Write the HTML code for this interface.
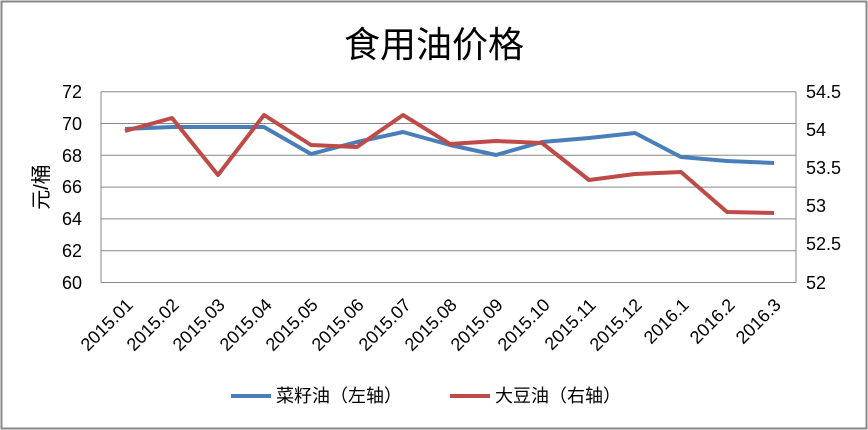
<!DOCTYPE html>
<html><head><meta charset="utf-8"><style>
body{margin:0;background:#fff}
svg{display:block}
text{font-family:"Liberation Sans","Noto Sans CJK SC",sans-serif;fill:#000}
</style></head><body>
<svg width="868" height="430" viewBox="0 0 868 430">
<rect x="1.5" y="1.5" width="865" height="427" fill="#fff" stroke="#888" stroke-width="2"/>
<text x="434" y="57" font-size="36" text-anchor="middle">食用油价格</text>
<g stroke="#888" stroke-width="1">
<line x1="101" y1="91.7" x2="796" y2="91.7"/>
<line x1="101" y1="123.5" x2="796" y2="123.5"/>
<line x1="101" y1="155.3" x2="796" y2="155.3"/>
<line x1="101" y1="187.1" x2="796" y2="187.1"/>
<line x1="101" y1="218.9" x2="796" y2="218.9"/>
<line x1="101" y1="250.7" x2="796" y2="250.7"/>
<line x1="101" y1="282.5" x2="796" y2="282.5"/>
<line x1="101" y1="91.7" x2="101" y2="282.5"/>
<line x1="796" y1="91.7" x2="796" y2="282.5"/>
</g>
<g font-size="18" text-anchor="end">
<text x="82" y="98">72</text><text x="82" y="130">70</text><text x="82" y="162">68</text><text x="82" y="193">66</text><text x="82" y="225">64</text><text x="82" y="257">62</text><text x="82" y="289">60</text>
</g>
<g font-size="18" text-anchor="start">
<text x="806" y="98">54.5</text><text x="806" y="136">54</text><text x="806" y="174">53.5</text><text x="806" y="212">53</text><text x="806" y="250">52.5</text><text x="806" y="289">52</text>
</g>
<text transform="translate(48,187) rotate(-90)" font-size="20" text-anchor="middle">元/桶</text>
<g font-size="18" text-anchor="end">
<text transform="translate(134,306) rotate(-45)">2015.01</text>
<text transform="translate(180,306) rotate(-45)">2015.02</text>
<text transform="translate(226,306) rotate(-45)">2015.03</text>
<text transform="translate(273,306) rotate(-45)">2015.04</text>
<text transform="translate(319,306) rotate(-45)">2015.05</text>
<text transform="translate(365,306) rotate(-45)">2015.06</text>
<text transform="translate(412,306) rotate(-45)">2015.07</text>
<text transform="translate(458,306) rotate(-45)">2015.08</text>
<text transform="translate(504,306) rotate(-45)">2015.09</text>
<text transform="translate(551,306) rotate(-45)">2015.10</text>
<text transform="translate(597,306) rotate(-45)">2015.11</text>
<text transform="translate(643,306) rotate(-45)">2015.12</text>
<text transform="translate(690,306) rotate(-45)">2016.1</text>
<text transform="translate(736,306) rotate(-45)">2016.2</text>
<text transform="translate(782,306) rotate(-45)">2016.3</text>
</g>
<polyline fill="none" stroke="#4a7ebb" stroke-width="4" stroke-linejoin="round" points="125,129 172,127 218,127 264,127 311,154 357,142 403,132 450,145 496,155 542,142 589,138 635,133 681,157 727,161 774,163"/>
<polyline fill="none" stroke="#be4b48" stroke-width="4" stroke-linejoin="round" points="125,131 172,118 218,175 264,115 311,145 357,147 403,115 450,144 496,141 542,143 589,180 635,174 681,172 727,212 774,213"/>
<line x1="231" y1="396" x2="271" y2="396" stroke="#4a7ebb" stroke-width="4"/>
<text x="276" y="402" font-size="18">菜籽油（左轴）</text>
<line x1="450" y1="396" x2="490" y2="396" stroke="#be4b48" stroke-width="4"/>
<text x="495" y="402" font-size="18">大豆油（右轴）</text>
</svg>
</body></html>
